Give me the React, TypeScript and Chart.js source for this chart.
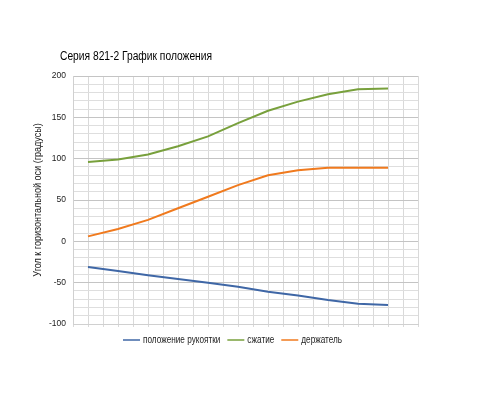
import React, { useEffect, useRef } from "react";
import { Chart, registerables } from "chart.js";

Chart.register(...registerables);

const categories = ["1", "2", "3", "4", "5", "6", "7", "8", "9", "10", "11"];
const handlePosition = [-31, -36, -41, -45.5, -50, -55, -61, -65.5, -71, -75.5, -77];
const compression = [96, 99, 105, 115, 127, 143, 158, 169, 178, 184, 185];
const holder = [6, 15, 26, 40, 54, 68, 80, 86, 89, 89, 89];
const seriesNames = ["положение рукоятки", "сжатие", "держатель"];
const seriesColors = ["#3f67a6", "#78a03c", "#f07a1e"];
const yMin = -100;
const yMax = 200;
const yMajorStep = 50;
const yMinorStep = 10;
const titleText = "Серия 821-2 График положения";
const yAxisTitle = "Угол к горизонтальной оси (градусы)";

const FONT = "'Liberation Sans', Arial, sans-serif";
const NARROW = 0.82;

const textPlugin = {
  id: "narrowTexts",
  afterDraw(chart: any) {
    const ctx = chart.ctx;
    // title
    ctx.save();
    ctx.font = `12.5px ${FONT}`;
    ctx.fillStyle = "#000";
    ctx.textBaseline = "middle";
    ctx.textAlign = "left";
    ctx.scale(NARROW, 1);
    ctx.fillText(titleText, 60 / NARROW, 57);
    ctx.restore();

    // y axis title (rotated)
    const area = chart.chartArea;
    ctx.save();
    ctx.font = `11px ${FONT}`;
    ctx.fillStyle = "#222";
    ctx.textBaseline = "middle";
    ctx.textAlign = "center";
    ctx.translate(38, (area.top + area.bottom) / 2);
    ctx.rotate(-Math.PI / 2);
    ctx.scale(NARROW, 1);
    ctx.fillText(yAxisTitle, 0, 0);
    ctx.restore();

    // legend
    ctx.save();
    ctx.font = `10px ${FONT}`;
    ctx.textBaseline = "middle";
    ctx.textAlign = "left";
    let x = 123;
    const y = 340;
    chart.data.datasets.forEach((ds: any) => {
      ctx.strokeStyle = ds.borderColor;
      ctx.globalAlpha = 0.75;
      ctx.lineWidth = 2;
      ctx.beginPath();
      ctx.moveTo(x, y);
      ctx.lineTo(x + 17, y);
      ctx.stroke();
      ctx.globalAlpha = 1;
      ctx.fillStyle = "#222";
      const tx = x + 20;
      ctx.save();
      ctx.scale(NARROW, 1);
      ctx.fillText(ds.label, tx / NARROW, y);
      ctx.restore();
      x = tx + ctx.measureText(ds.label).width * NARROW + 7;
    });
    ctx.restore();
  },
};

export default function App() {
  const ref = useRef<HTMLCanvasElement | null>(null);
  useEffect(() => {
    if (!ref.current) return;
    const series = [handlePosition, compression, holder];
    const chart = new Chart(ref.current, {
      type: "line",
      data: {
        datasets: series.map((arr, si) => ({
          label: seriesNames[si],
          data: categories.map((_, i) => ({ x: i, y: arr[i] })),
          borderColor: seriesColors[si],
          backgroundColor: seriesColors[si],
          borderWidth: 2,
          pointRadius: 0,
          tension: 0,
          fill: false,
        })),
      },
      options: {
        responsive: false,
        animation: false,
        devicePixelRatio: 1,
        layout: { padding: { left: 0, top: 76, right: 82, bottom: 73 } },
        plugins: {
          legend: { display: false },
          title: { display: false },
          tooltip: { enabled: false },
        },
        scales: {
          x: {
            type: "linear",
            min: -0.5,
            max: 11,
            ticks: { display: false, stepSize: 0.5 },
            grid: { color: "#d9d9d9", drawTicks: true, tickLength: 3, lineWidth: 1 },
            border: { color: "#d0d0d0" },
            afterFit(scale: any) {
              scale.height = 3;
            },
          },
          y: {
            min: yMin,
            max: yMax,
            ticks: {
              stepSize: yMinorStep,
              autoSkip: false,
              padding: 7,
              color: "#222",
              font: { family: FONT, size: 8.5 },
              callback: (v: any) => (Number(v) % yMajorStep === 0 ? String(v) : ""),
            },
            grid: {
              drawTicks: false,
              color: (c: any) =>
                c.tick && c.tick.value % yMajorStep === 0 ? "#c4c4c4" : "#dedede",
            },
            border: { color: "#d0d0d0" },
            afterFit(scale: any) {
              scale.width = 73;
            },
          },
        },
      },
      plugins: [textPlugin],
    });
    return () => chart.destroy();
  }, []);
  return (
    <div style={{ position: "absolute", left: 0, top: 0, width: 500, height: 400, background: "#fff" }}>
      <canvas ref={ref} width={500} height={400} />
    </div>
  );
}
